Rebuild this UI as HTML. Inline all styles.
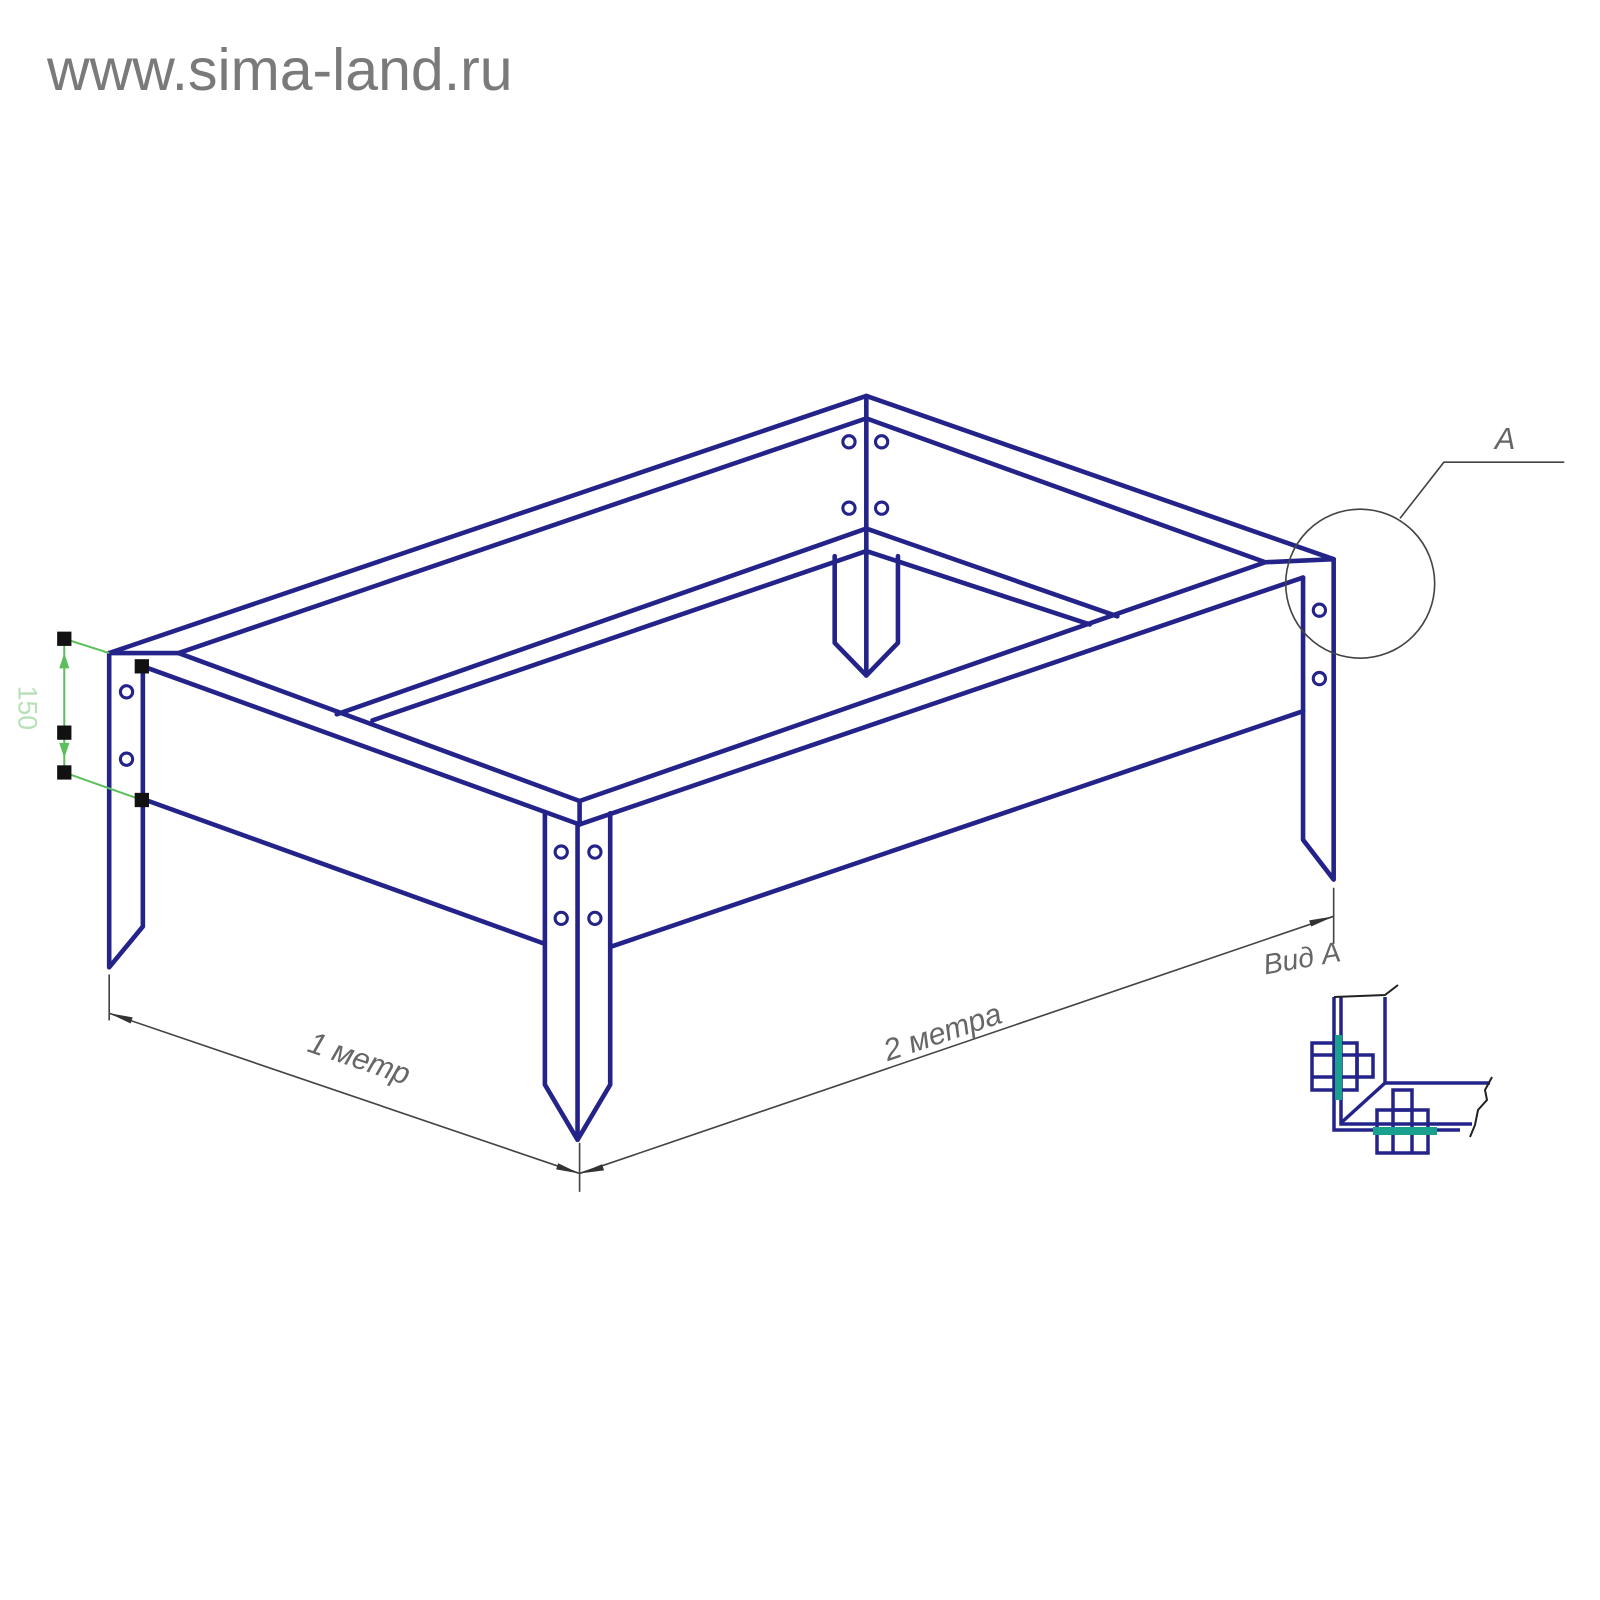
<!DOCTYPE html>
<html><head><meta charset="utf-8"><style>
html,body{margin:0;padding:0;background:#fff;}
svg{display:block;}
</style></head><body>
<svg width="1600" height="1600" viewBox="0 0 1600 1600" xmlns="http://www.w3.org/2000/svg">
<rect width="1600" height="1600" fill="#fff"/>
<text x="47" y="90" font-family="Liberation Sans, sans-serif" font-size="59" fill="#7a7a7a">www.sima-land.ru</text>
<g transform="scale(1.0204)">
<g fill="none" stroke="#23238a" stroke-width="4.5" stroke-linejoin="round" stroke-linecap="round">
<!-- outer back edges -->
<path d="M107,640 L849,388 L1307,548"/>
<!-- left corner -->
<path d="M107,640 L175,640"/>
<path d="M175,640 L849,410"/>
<path d="M175,640 L568,785"/>
<path d="M140,653 L568,808"/>
<!-- right corner -->
<path d="M1240,551 L1307,548"/>
<path d="M849,410 L1240,551"/>
<path d="M568,785 L1240,551"/>
<path d="M568,808 L1277,566"/>
<path d="M568,785 L568,808"/>
<!-- back corner -->
<path d="M849,388 L849,662"/>
<path d="M849,518 L330,700"/>
<path d="M849,540 L365,706"/>
<path d="M849,518 L1095,604"/>
<path d="M849,540 L1068,612"/>
<path d="M818,545 L818,630 L849,662 L880,630 L880,545"/>
<!-- left leg -->
<path d="M107,640 L107,948 L140,908 L140,653"/>
<path d="M140,783 L534,925"/>
<!-- front leg -->
<path d="M534,797 L534,1063 L566,1117 L598,1063 L598,797"/>
<path d="M566,808 L566,1117"/>
<path d="M598,928 L1277,697"/>
<!-- right leg -->
<path d="M1307,548 L1307,862 L1277,823 L1277,566"/>
</g>
<g fill="none" stroke="#23238a" stroke-width="3">
<circle cx="832" cy="433" r="6"/><circle cx="864" cy="433" r="6"/>
<circle cx="832" cy="498" r="6"/><circle cx="864" cy="498" r="6"/>
<circle cx="124" cy="678" r="6"/><circle cx="124" cy="744" r="6"/>
<circle cx="550" cy="835" r="6"/><circle cx="583" cy="835" r="6"/>
<circle cx="550" cy="900" r="6"/><circle cx="583" cy="900" r="6"/>
<circle cx="1293" cy="598" r="6"/><circle cx="1293" cy="665" r="6"/>
</g>
<g fill="none" stroke="#444" stroke-width="1.6">
<circle cx="1333" cy="572" r="73"/>
<path d="M1372,508 L1415,453 L1533,453"/>
<path d="M107,955 L107,1000"/>
<path d="M107,993 L568,1150"/>
<path d="M568,1120 L568,1168"/>
<path d="M568,1150 L1307,898"/>
<path d="M1307,870 L1307,925"/>
</g>
<g fill="#333">
<path d="M107,993 L130,997 L128,1003 Z"/><path d="M568,1150 L545,1146 L547,1140 Z"/>
<path d="M568,1150 L590,1141 L592,1147 Z"/><path d="M1307,898 L1285,908 L1283,902 Z"/>
</g>
<g font-family="Liberation Sans, sans-serif" font-style="italic" fill="#666" font-size="30">
<text x="1465" y="440">A</text>
<text transform="translate(300,1030) rotate(18.8)">1 метр</text>
<text transform="translate(870,1040) rotate(-18.6)">2 метра</text>
<text transform="translate(1240,955) rotate(-10)" font-size="28">Вид А</text>
</g>
<g stroke="#5cbf5c" stroke-width="2" fill="none">
<path d="M63,626 L107,640"/><path d="M63,757 L139,784"/>
<path d="M63,626 L63,757"/>
</g>
<g fill="#5cbf5c"><path d="M63,640 L58,655 L68,655 Z"/><path d="M63,743 L58,728 L68,728 Z"/></g>
<text transform="translate(18,672) rotate(90)" font-family="Liberation Sans, sans-serif" font-size="26" fill="#b8e0b8">150</text>
<g fill="#111">
<rect x="56" y="619" width="14" height="14"/><rect x="56" y="711" width="14" height="14"/>
<rect x="56" y="750" width="14" height="14"/><rect x="132" y="646" width="14" height="14"/>
<rect x="132" y="777" width="14" height="14"/>
</g>
</g>
<g fill="none" stroke="#23238a" stroke-width="3.5">
<path d="M1334,997 L1334,1130 L1460,1130"/>
<path d="M1341,997 L1341,1124 L1472,1124"/>
<path d="M1385,997 L1385,1083 L1490,1083"/>
<path d="M1385,1083 L1342,1122"/>
<rect x="1312" y="1043" width="45" height="47"/>
<path d="M1312,1055 L1357,1055 M1312,1077 L1357,1077"/>
<rect x="1357" y="1055" width="16" height="22"/>
<rect x="1377" y="1110" width="51" height="43"/>
<path d="M1393,1110 L1393,1153 M1412,1110 L1412,1153"/>
<rect x="1393" y="1090" width="19" height="20"/>
</g>
<g stroke="#222" stroke-width="2" fill="none">
<path d="M1334,997 L1385,995 L1398,985"/>
<path d="M1492,1077 L1485,1090 L1487,1100 L1478,1110 L1475,1125 L1470,1137"/>
</g>
<g fill="#1aa08f">
<rect x="1335" y="1035" width="7" height="65"/>
<rect x="1373" y="1127" width="64" height="8"/>
</g>
</svg>
</body></html>
